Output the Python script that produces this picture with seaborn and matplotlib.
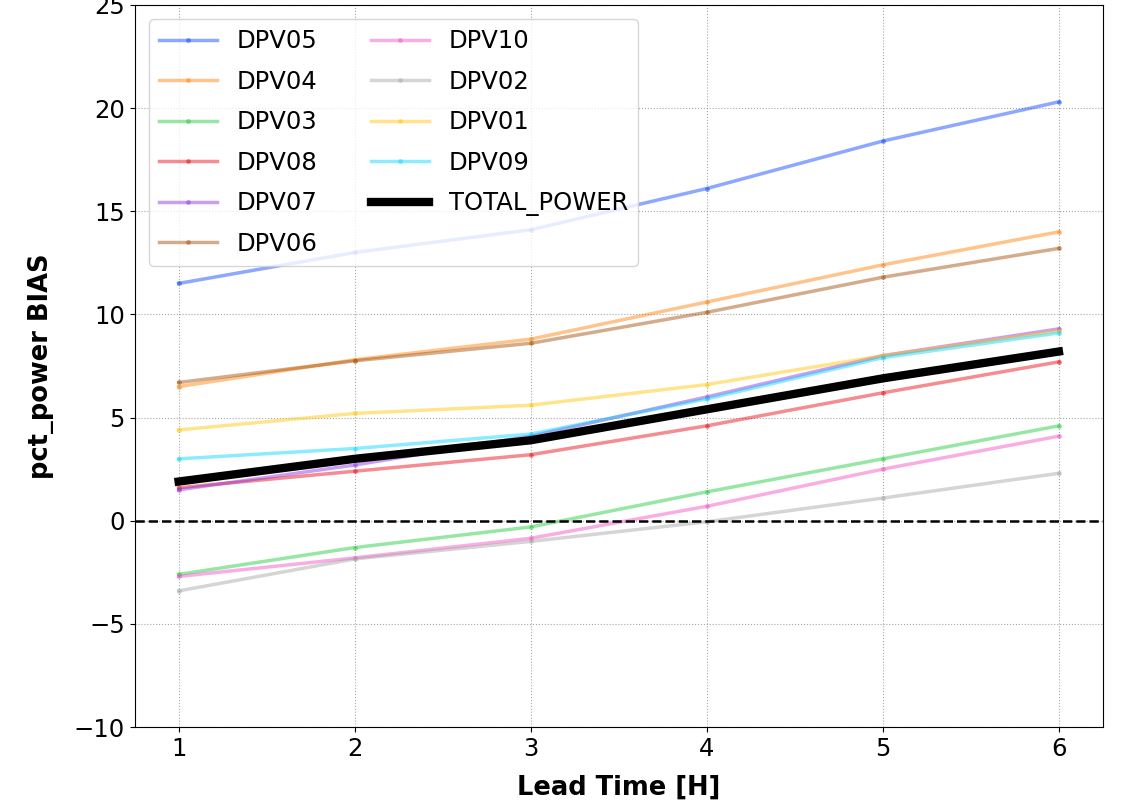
import matplotlib
matplotlib.use("Agg")
import matplotlib.pyplot as plt
import seaborn as sns
import pandas as pd

# lead times
lead_time = [1, 2, 3, 4, 5, 6]

# bias per plant (pct of power)
dpv05 = [11.5, 13.0, 14.1, 16.1, 18.4, 20.3]
dpv04 = [6.5, 7.8, 8.8, 10.6, 12.4, 14.0]
dpv03 = [-2.6, -1.3, -0.3, 1.4, 3.0, 4.6]
dpv08 = [1.6, 2.4, 3.2, 4.6, 6.2, 7.7]
dpv07 = [1.5, 2.7, 4.1, 6.0, 8.0, 9.3]
dpv06 = [6.7, 7.75, 8.6, 10.1, 11.8, 13.2]
dpv10 = [-2.7, -1.8, -0.85, 0.7, 2.5, 4.1]
dpv02 = [-3.4, -1.85, -1.0, -0.05, 1.1, 2.3]
dpv01 = [4.4, 5.2, 5.6, 6.6, 8.0, 9.2]
dpv09 = [3.0, 3.5, 4.2, 5.9, 7.9, 9.1]
total_power = [1.9, 3.0, 3.9, 5.4, 6.9, 8.2]

plants = ["DPV05", "DPV04", "DPV03", "DPV08", "DPV07",
          "DPV06", "DPV10", "DPV02", "DPV01", "DPV09"]
values = [dpv05, dpv04, dpv03, dpv08, dpv07, dpv06, dpv10, dpv02, dpv01, dpv09]

df = pd.DataFrame({
    "lead": lead_time * len(plants),
    "bias": [v for vals in values for v in vals],
    "plant": [p for p in plants for _ in lead_time],
})
df_total = pd.DataFrame({"lead": lead_time, "bias": total_power})

colores = sns.color_palette("bright", 10)

fig, ax = plt.subplots(figsize=(11.22, 8.07), dpi=100)

sns.lineplot(data=df, x="lead", y="bias", hue="plant", hue_order=plants,
             palette=colores, marker="o", markersize=3.5, markeredgewidth=0,
             linewidth=2.5, alpha=0.45, ax=ax)
sns.lineplot(data=df_total, x="lead", y="bias", color="black", linewidth=6,
             label="TOTAL_POWER", ax=ax)

ax.axhline(0, color="black", linestyle="--", linewidth=1.8)

ax.set_ylim(-10, 25)
ax.set_xlim(0.75, 6.25)
ax.set_xticks(lead_time)
ax.grid(True, linestyle=":", color="gray", alpha=0.7)
ax.tick_params(labelsize=17.5)
ax.set_xlabel("Lead Time [H]", fontsize=18.5, fontweight="bold", labelpad=10)
ax.set_ylabel("pct_power BIAS", fontsize=18.5, fontweight="bold", labelpad=14)

leg = ax.legend(loc="upper left", ncol=2, fontsize=17.5, labelspacing=0.68,
                handlelength=2.4, columnspacing=2.2, borderaxespad=0.6)

plt.subplots_adjust(left=0.12, right=0.983, top=0.994, bottom=0.099)
plt.savefig("out.png", dpi=100)
